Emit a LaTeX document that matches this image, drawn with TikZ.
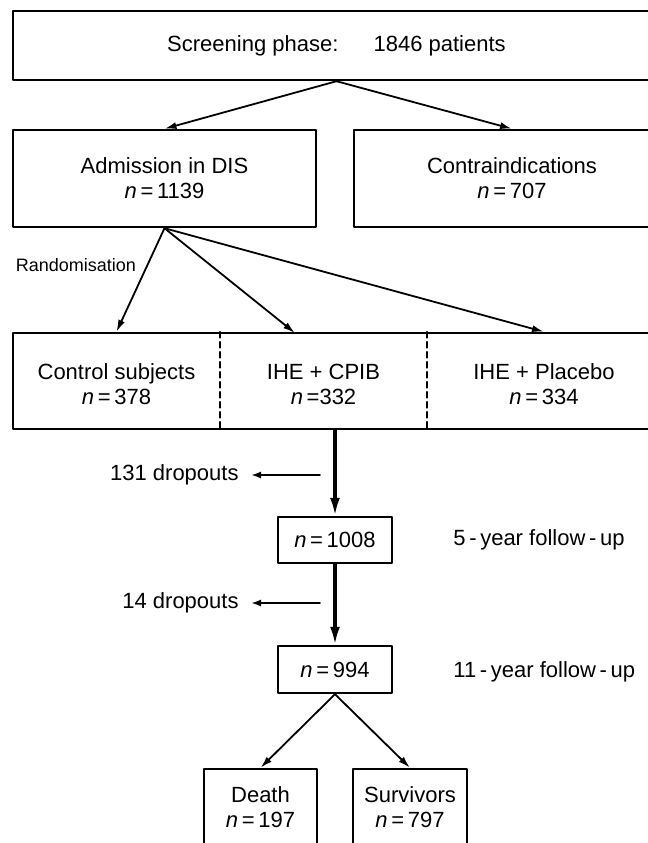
\documentclass[tikz,border=0pt]{standalone}
\usepackage{fontspec}
\setmainfont{Liberation Sans}
\usetikzlibrary{arrows.meta}

\begin{document}
\begin{tikzpicture}[x=0.5pt, y=-0.5pt, line cap=round, line join=round,
	box/.style={draw, line width=1.2pt, align=center, inner sep=0pt,
		font=\fontsize{11}{12.5}\selectfont},
	cell/.style={align=center, inner sep=0pt, font=\fontsize{11}{12.5}\selectfont},
	lbl/.style={inner sep=0pt, font=\fontsize{11}{12.5}\selectfont},
	arr/.style={-{Latex[length=6pt,width=3.5pt]}, line width=0.9pt},
	bigarr/.style={-{Latex[length=9pt,width=5pt]}, line width=1.6pt},
	droparr/.style={-{Latex[length=5pt,width=3.5pt]}, line width=0.9pt},
	divider/.style={dashed, dash pattern=on 3pt off 2pt, line width=0.8pt}]
	
	\useasboundingbox (0,0) rectangle (648,843);
	
	% Screening
	\node[box, minimum width=323.5pt, minimum height=34.5pt] (screen) at (336.5,45.5)
	{Screening phase:\hspace{1.6em}1846 patients};
	
	\node[box, minimum width=151.5pt, minimum height=48.5pt] (adm) at (164.5,178.5)
	{Admission in DIS\\\textit{n}\,=\,1139};
	\node[box, minimum width=158pt, minimum height=48.5pt] (contra) at (512,178.5)
	{Contraindications\\\textit{n}\,=\,707};
	
	\draw[arr] (screen.south) -- (adm.north);
	\draw[arr] (screen.south) -- (contra.north);
	
	% Randomisation
	\node[box, minimum width=324pt, minimum height=48pt] (trt) at (337,381) {};
	\node[cell] (ctrl) at (116.5,384) {Control subjects\\\textit{n}\,=\,378};
	\node[cell] (cpib) at (323.5,384) {IHE + CPIB\\\textit{n}\,=332};
	\node[cell] (plac) at (544,384) {IHE + Placebo\\\textit{n}\,=\,334};
	\draw[divider] (220,0 |- trt.north) -- (220,0 |- trt.south);
	\draw[divider] (427,0 |- trt.north) -- (427,0 |- trt.south);
	
	\coordinate (cpibin) at (295,333);
	\node[inner sep=0pt, font=\fontsize{9}{10}\selectfont] (rand) at (76,265) {Randomisation};
	\draw[arr] (adm.south) -- (ctrl |- trt.north);
	\draw[arr] (adm.south) -- (cpibin);
	\draw[arr] (adm.south) -- (plac |- trt.north);
	
	% Follow-up
	\node[box, minimum width=57pt, minimum height=23pt] (fu5) at (335,540)
	{\textit{n}\,=\,1008};
	\node[box, minimum width=57pt, minimum height=23.5pt] (fu11) at (335,669.5)
	{\textit{n}\,=\,994};
	\draw[bigarr] (fu5 |- trt.south) -- (fu5.north);
	\draw[bigarr] (fu5.south) -- (fu11.north);
	
	\node[lbl, anchor=west] (fu5lbl) at (453,540) {5\,-\,year follow\,-\,up};
	\node[lbl, anchor=west] (fu11lbl) at (453,672) {11\,-\,year follow\,-\,up};
	
	% Dropouts
	\coordinate (d1) at (320,475);
	\coordinate (d2) at (320,603);
	\node[lbl, inner xsep=6pt, anchor=east] (drop1) at (251,475) {131 dropouts};
	\node[lbl, inner xsep=6pt, anchor=east] (drop2) at (251,603) {14 dropouts};
	\draw[droparr] (d1) -- (drop1.east);
	\draw[droparr] (d2) -- (drop2.east);
	
	% Outcome
	\node[box, minimum width=56.5pt, minimum height=38pt] (death) at (260.5,807)
	{Death\\\textit{n}\,=\,197};
	\node[box, minimum width=57pt, minimum height=38pt] (surv) at (410,807)
	{Survivors\\\textit{n}\,=\,797};
	\draw[arr] (fu11.south) -- (death.north);
	\draw[arr] (fu11.south) -- (surv.north);
	
\end{tikzpicture}
\end{document}
